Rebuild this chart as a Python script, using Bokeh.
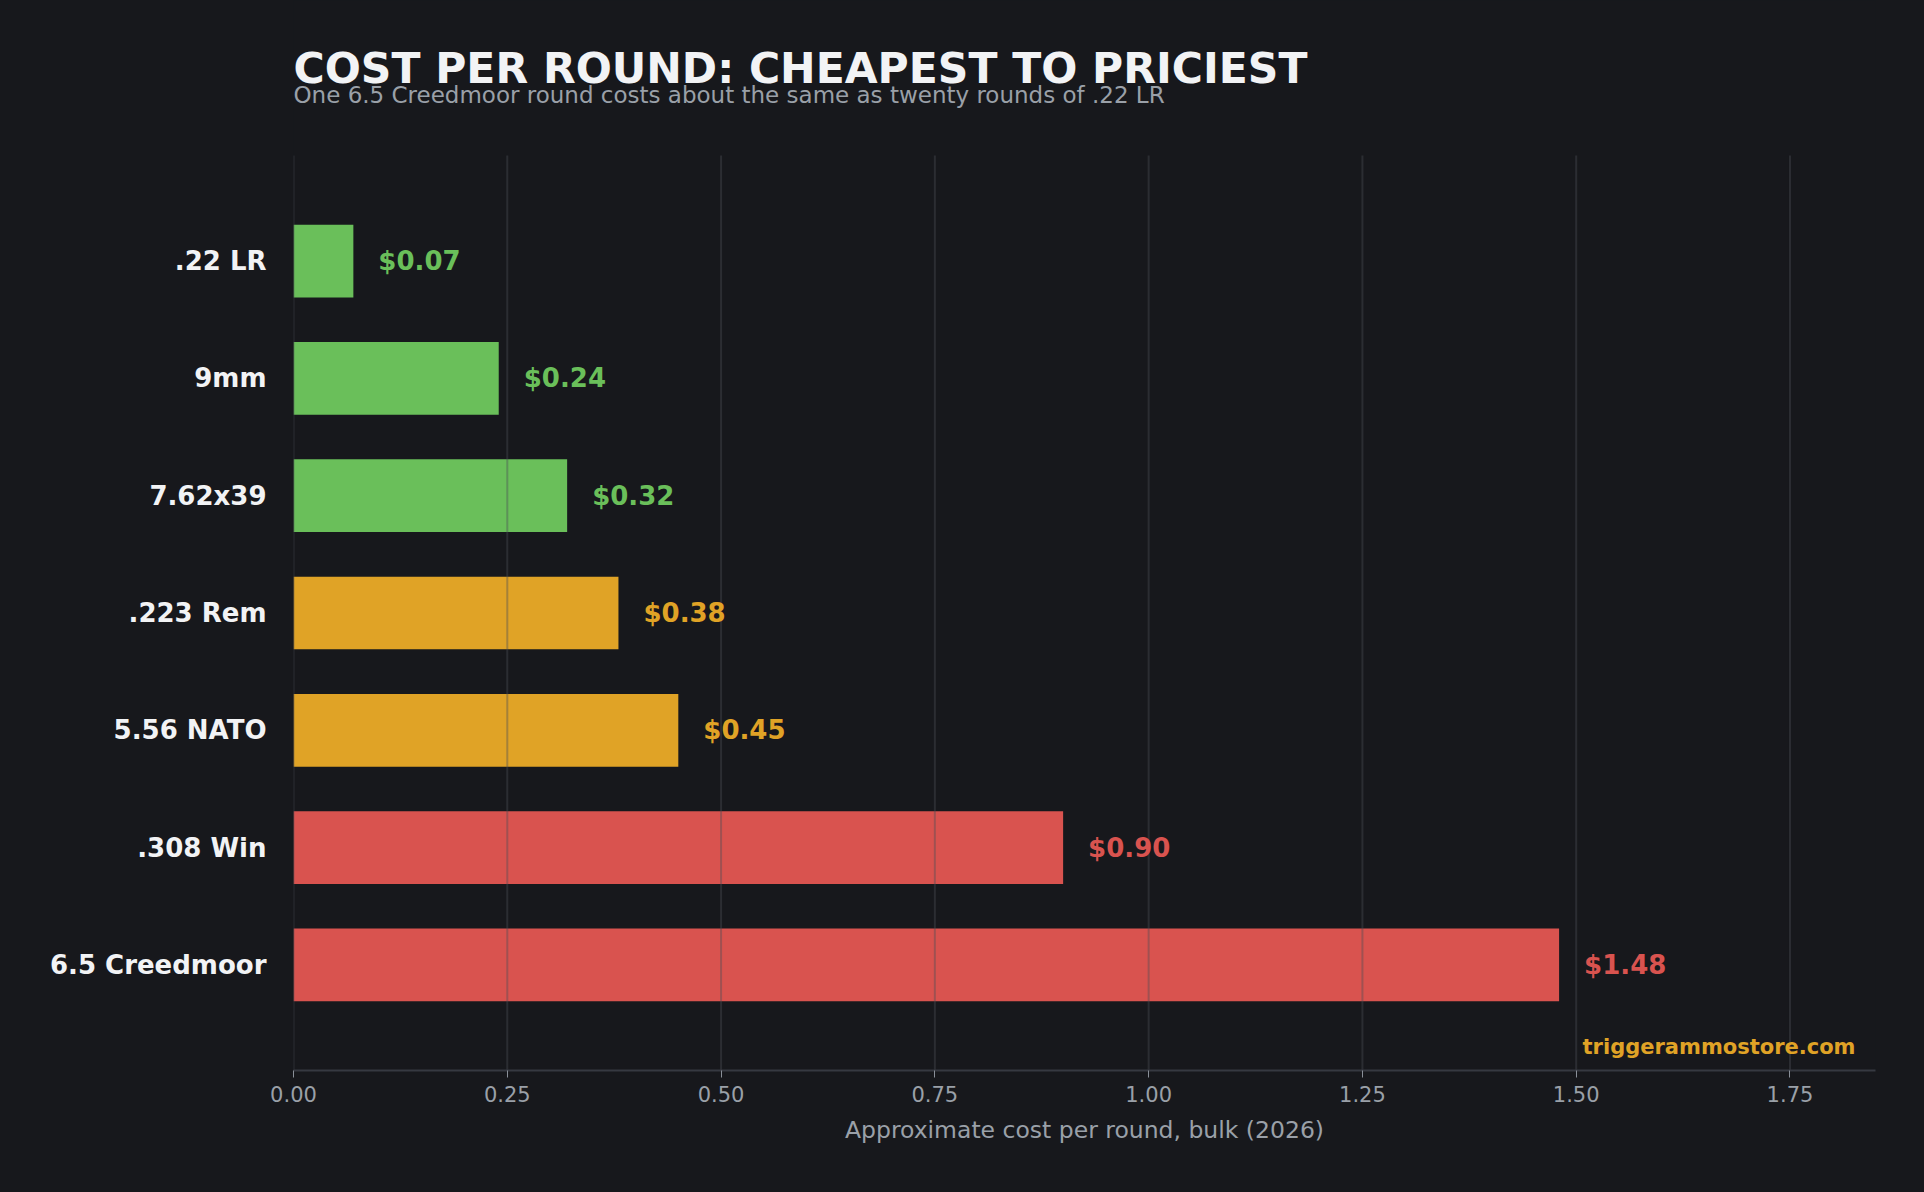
import re

from bokeh.plotting import figure
from bokeh.models import Range1d, FixedTicker, NumeralTickFormatter, Label, ColumnDataSource
from bokeh.core.properties import value
from bokeh.embed import file_html
from bokeh.resources import INLINE

# Bulk price per round, cheapest first
calibers = [".22 LR", "9mm", "7.62x39", ".223 Rem", "5.56 NATO", ".308 Win", "6.5 Creedmoor"]
costs = [0.07, 0.24, 0.32, 0.38, 0.45, 0.90, 1.48]
tiers = ["budget", "budget", "budget", "mid", "mid", "premium", "premium"]
x_ticks = [0.0, 0.25, 0.50, 0.75, 1.00, 1.25, 1.50, 1.75]

tier_colors = {"budget": "#6abf5a", "mid": "#e0a326", "premium": "#d9534f"}

BG = "#17181c"
FONT = "DejaVu Sans"

# the bar area is 915px tall; the frame extends 155px higher to hold the headline
BAR_H, HEAD_H = 915, 155
FRAME_W, FRAME_H = 1582, BAR_H + HEAD_H

rows = list(range(len(calibers)))
y_top, y_bottom = -0.9, len(calibers) - 0.1
units_per_px = (y_bottom - y_top) / BAR_H
y_frame_top = y_top - HEAD_H * units_per_px
x_max = max(costs) * 1.25

src = ColumnDataSource(dict(
    y=rows,
    cost=costs,
    color=[tier_colors[t] for t in tiers],
    label=["${:.2f}".format(c) for c in costs],
))

# the plot element itself carries the dark background around the frame
p = figure(
    width=1924, height=1192,
    frame_width=FRAME_W, frame_height=FRAME_H,
    min_border_left=293, min_border_right=49, min_border_top=0, min_border_bottom=122,
    x_range=Range1d(0, x_max),
    y_range=Range1d(y_bottom, y_frame_top),
    output_backend="svg", toolbar_location=None,
    background_fill_color=BG, border_fill_color=None,
)
p.styles = {"background-color": BG}
p.title = None
p.outline_line_color = None
p.grid.grid_line_color = None

p.hbar(y="y", left=0, right="cost", height=0.62, fill_color="color", line_color=None, source=src)

# vertical guide lines laid over the bars
p.segment(x0=x_ticks, x1=x_ticks, y0=[y_top] * len(x_ticks), y1=[y_bottom] * len(x_ticks),
          line_color="#4a4d55", line_alpha=0.4, line_width=2)

p.text(x="cost", y="y", text="label", text_color="color", x_offset=25,
       text_align="left", text_baseline="middle",
       text_font=value(FONT), text_font_size="26px", text_font_style="bold", source=src)

# x axis
p.xaxis.ticker = FixedTicker(ticks=x_ticks)
p.xaxis.formatter = NumeralTickFormatter(format="0.00")
p.xaxis.axis_label = "Approximate cost per round, bulk (2026)"
p.xaxis.axis_label_text_font = FONT
p.xaxis.axis_label_text_font_size = "23.5px"
p.xaxis.axis_label_text_font_style = "normal"
p.xaxis.axis_label_text_color = "#9aa0a8"
p.xaxis.axis_label_standoff = 11
p.xaxis.major_label_text_font = FONT
p.xaxis.major_label_text_font_size = "21px"
p.xaxis.major_label_text_color = "#9aa0a8"
p.xaxis.major_label_standoff = 8
p.xaxis.axis_line_color = "#363941"
p.xaxis.axis_line_width = 2
p.xaxis.major_tick_line_color = "#8a9099"
p.xaxis.major_tick_out = 7
p.xaxis.major_tick_in = 0
p.xaxis.minor_tick_line_color = None

# y axis: caliber names
p.yaxis.ticker = FixedTicker(ticks=rows)
p.yaxis.major_label_overrides = {i: c for i, c in zip(rows, calibers)}
p.yaxis.major_label_text_font = FONT
p.yaxis.major_label_text_font_size = "26px"
p.yaxis.major_label_text_font_style = "bold"
p.yaxis.major_label_text_color = "#f2f3f5"
p.yaxis.major_label_standoff = 27
p.yaxis.axis_line_color = None
p.yaxis.major_tick_line_color = None
p.yaxis.major_tick_out = 0
p.yaxis.minor_tick_line_color = None

# headline and subtitle at the top of the frame
p.add_layout(Label(x=0, y=FRAME_H - 68, x_units="screen", y_units="screen",
                   text="COST PER ROUND: CHEAPEST TO PRICIEST",
                   text_align="left", text_baseline="alphabetic",
                   text_font=FONT, text_font_size="42.5px", text_font_style="bold",
                   text_color="#f2f3f5"))
p.add_layout(Label(x=0, y=FRAME_H - 94, x_units="screen", y_units="screen",
                   text="One 6.5 Creedmoor round costs about the same as twenty rounds of .22 LR",
                   text_align="left", text_baseline="alphabetic",
                   text_font=FONT, text_font_size="23px", text_font_style="normal",
                   text_color="#9aa0a8"))

p.add_layout(Label(x=x_max, y=y_bottom, x_offset=-20, y_offset=24,
                   text="triggerammostore.com", text_align="right", text_baseline="alphabetic",
                   text_font=FONT, text_font_size="21px", text_font_style="bold",
                   text_color="#e0a326"))

html = file_html(p, INLINE)
page_css = "<style>html, body { margin: 0; background: %s; }</style>" % BG
html = html.replace("</head>", page_css + "</head>", 1)
html = re.sub(r"<body[^>]*>", '<body style="margin:0;background:%s;">' % BG, html, count=1)
open("out.html", "w").write(html)
